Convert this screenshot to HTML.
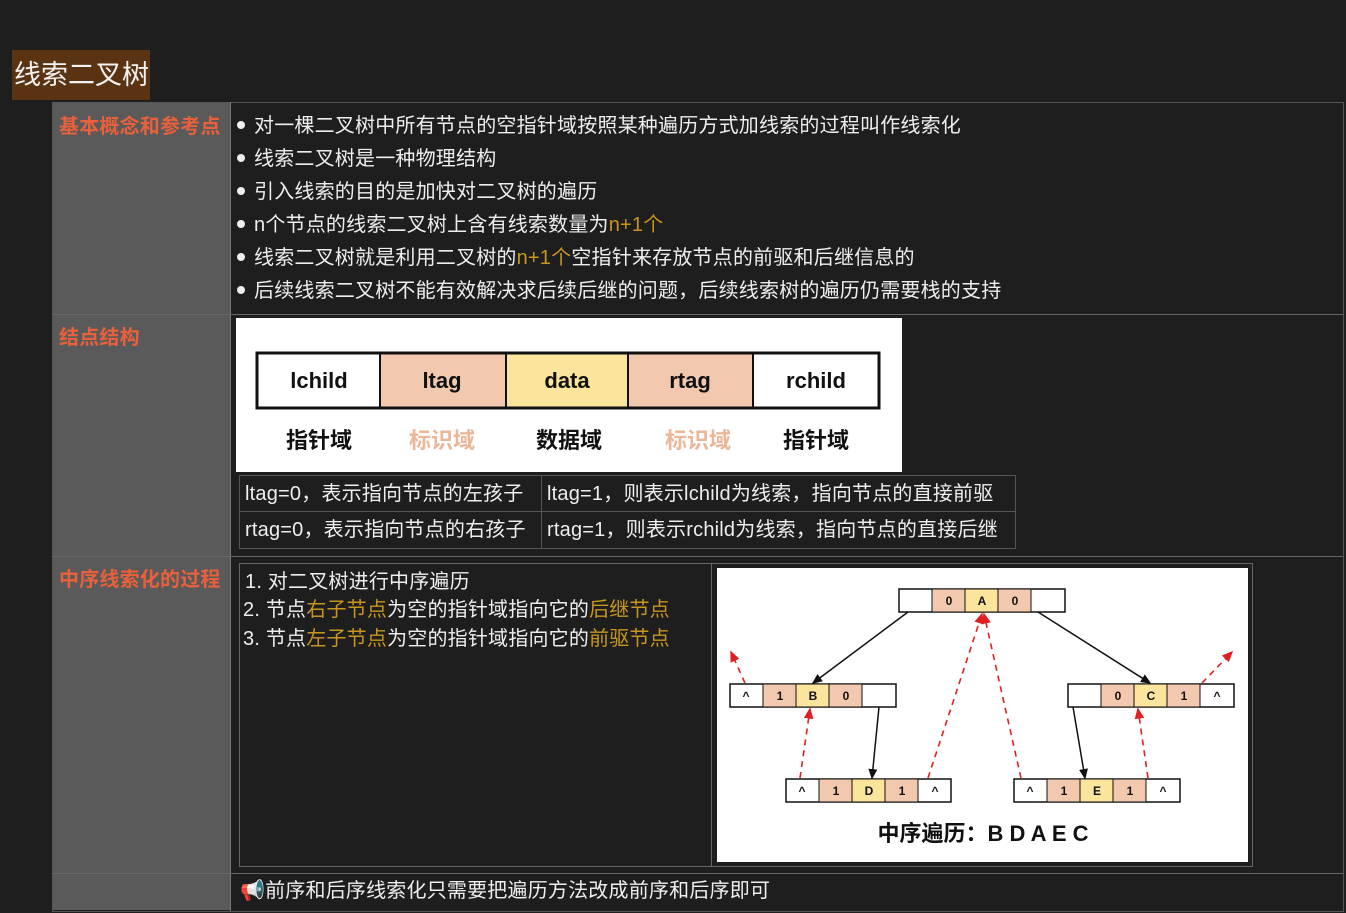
<!DOCTYPE html>
<html><head><meta charset="utf-8"><style>
body{margin:0;width:1346px;height:913px;background:#1e1e1e;font-family:"Liberation Sans","Noto Sans CJK SC",sans-serif;color:#eee;position:relative;overflow:hidden}
.a{position:absolute;white-space:nowrap}
.t{font-size:20px;line-height:22px;letter-spacing:0.2px}
.lab{color:#e8603c;font-size:20px;font-weight:bold;letter-spacing:0.2px}
.g{color:#c8961e}
.bl{position:absolute;width:8px;height:8px;border-radius:50%;background:#eee}
</style></head><body>
<div class="a" style="left:12px;top:50px;width:138px;height:50px;background:#5a3312"></div>
<div class="a" style="left:14px;top:58px;font-size:27px;line-height:34px;color:#f2f2f2">线索二叉树</div>
<div class="a" style="left:52px;top:102px;width:1290px;height:808px;border:1px solid #555;background:#1e1e1e"></div>
<div class="a" style="left:53px;top:103px;width:177px;height:807px;background:#5a5a5a"></div>
<div class="a" style="left:230px;top:102px;width:1px;height:809px;background:#777"></div>
<div class="a" style="left:52px;top:314px;width:1291px;height:1px;background:#666"></div>
<div class="a" style="left:52px;top:556px;width:1291px;height:1px;background:#666"></div>
<div class="a" style="left:52px;top:873px;width:1291px;height:1px;background:#666"></div>
<div class="a lab" style="left:59px;top:110px">基本概念和参考点</div>
<div class="a lab" style="left:59px;top:321px">结点结构</div>
<div class="a lab" style="left:59px;top:563px">中序线索化的过程</div>
<div class="bl" style="left:237px;top:121px"></div><div class="a t" style="left:254px;top:115px">对一棵二叉树中所有节点的空指针域按照某种遍历方式加线索的过程叫作线索化</div>
<div class="bl" style="left:237px;top:154px"></div><div class="a t" style="left:254px;top:148px">线索二叉树是一种物理结构</div>
<div class="bl" style="left:237px;top:187px"></div><div class="a t" style="left:254px;top:181px">引入线索的目的是加快对二叉树的遍历</div>
<div class="bl" style="left:237px;top:220px"></div><div class="a t" style="left:254px;top:214px">n个节点的线索二叉树上含有线索数量为<span class="g">n+1个</span></div>
<div class="bl" style="left:237px;top:253px"></div><div class="a t" style="left:254px;top:247px">线索二叉树就是利用二叉树的<span class="g">n+1个</span>空指针来存放节点的前驱和后继信息的</div>
<div class="bl" style="left:237px;top:286px"></div><div class="a t" style="left:254px;top:280px">后续线索二叉树不能有效解决求后续后继的问题，后续线索树的遍历仍需要栈的支持</div>
<svg class="a" style="left:236px;top:318px" width="666" height="154">
<rect width="666" height="154" fill="#fff"/>
<g font-family="Liberation Sans,Noto Sans CJK SC,sans-serif" font-weight="bold" font-size="22" text-anchor="middle">
<rect x="21" y="35" width="123" height="55" fill="#fff"/>
<rect x="144" y="35" width="126" height="55" fill="#f2c9ae"/>
<rect x="270" y="35" width="122" height="55" fill="#fbe49c"/>
<rect x="392" y="35" width="125" height="55" fill="#f2c9ae"/>
<rect x="21" y="35" width="622" height="55" fill="none" stroke="#111" stroke-width="3"/>
<g stroke="#111" stroke-width="2"><line x1="144" y1="35" x2="144" y2="90"/><line x1="270" y1="35" x2="270" y2="90"/><line x1="392" y1="35" x2="392" y2="90"/><line x1="517" y1="35" x2="517" y2="90"/></g>
<text x="83" y="70" fill="#111">lchild</text><text x="206" y="70" fill="#111">ltag</text><text x="331" y="70" fill="#111">data</text><text x="454" y="70" fill="#111">rtag</text><text x="580" y="70" fill="#111">rchild</text>
<text x="83" y="130" fill="#111">指针域</text><text x="206" y="130" fill="#eab898">标识域</text><text x="333" y="130" fill="#111">数据域</text><text x="462" y="130" fill="#eab898">标识域</text><text x="580" y="130" fill="#111">指针域</text>
</g></svg>
<div class="a" style="left:239px;top:475px;width:775px;height:72px;border:1px solid #555"></div>
<div class="a" style="left:239px;top:511px;width:776px;height:1px;background:#555"></div>
<div class="a" style="left:541px;top:475px;width:1px;height:73px;background:#555"></div>
<div class="a t" style="left:245px;top:483px">ltag=0，表示指向节点的左孩子</div>
<div class="a t" style="left:547px;top:483px">ltag=1，则表示lchild为线索，指向节点的直接前驱</div>
<div class="a t" style="left:245px;top:519px">rtag=0，表示指向节点的右孩子</div>
<div class="a t" style="left:547px;top:519px">rtag=1，则表示rchild为线索，指向节点的直接后继</div>
<div class="a" style="left:239px;top:563px;width:1012px;height:302px;border:1px solid #666"></div>
<div class="a" style="left:711px;top:563px;width:1px;height:303px;background:#666"></div>
<div class="a t" style="left:245px;top:571px">1. 对二叉树进行中序遍历</div>
<div class="a t" style="left:243px;top:599px">2. 节点<span class="g">右子节点</span>为空的指针域指向它的<span class="g">后继节点</span></div>
<div class="a t" style="left:243px;top:628px">3. 节点<span class="g">左子节点</span>为空的指针域指向它的<span class="g">前驱节点</span></div>
<svg class="a" style="left:0;top:0" width="1346" height="913">
<defs><marker id="ak" markerWidth="8" markerHeight="8" refX="6" refY="4" orient="auto"><path d="M0,1 L7,4 L0,7z" fill="#111"/></marker>
<marker id="ar" markerWidth="8" markerHeight="8" refX="6" refY="4" orient="auto"><path d="M0,1 L7,4 L0,7z" fill="#e02020"/></marker></defs>
<rect x="717" y="568" width="531" height="294" fill="#fff"/>
<g font-family="Liberation Sans,sans-serif" font-weight="bold" font-size="12" text-anchor="middle" fill="#111">
<g transform="translate(899,589)">
<rect width="166" height="23" fill="#fff" stroke="#111" stroke-width="1.5"/><rect x="33" width="33" height="23" fill="#f2c9ae" stroke="#111"/><rect x="66" width="33" height="23" fill="#fbe49c" stroke="#111"/><rect x="99" width="33" height="23" fill="#f2c9ae" stroke="#111"/>
<text x="50" y="16">0</text><text x="83" y="16">A</text><text x="116" y="16">0</text></g>
<g transform="translate(730,684)">
<rect width="166" height="23" fill="#fff" stroke="#111" stroke-width="1.5"/><rect x="33" width="33" height="23" fill="#f2c9ae" stroke="#111"/><rect x="66" width="33" height="23" fill="#fbe49c" stroke="#111"/><rect x="99" width="33" height="23" fill="#f2c9ae" stroke="#111"/>
<text x="16" y="16">^</text><text x="50" y="16">1</text><text x="83" y="16">B</text><text x="116" y="16">0</text></g>
<g transform="translate(1068,684)">
<rect width="166" height="23" fill="#fff" stroke="#111" stroke-width="1.5"/><rect x="33" width="33" height="23" fill="#f2c9ae" stroke="#111"/><rect x="66" width="33" height="23" fill="#fbe49c" stroke="#111"/><rect x="99" width="33" height="23" fill="#f2c9ae" stroke="#111"/>
<text x="50" y="16">0</text><text x="83" y="16">C</text><text x="116" y="16">1</text><text x="149" y="16">^</text></g>
<g transform="translate(786,779)">
<rect width="165" height="23" fill="#fff" stroke="#111" stroke-width="1.5"/><rect x="33" width="33" height="23" fill="#f2c9ae" stroke="#111"/><rect x="66" width="33" height="23" fill="#fbe49c" stroke="#111"/><rect x="99" width="33" height="23" fill="#f2c9ae" stroke="#111"/>
<text x="16" y="16">^</text><text x="50" y="16">1</text><text x="83" y="16">D</text><text x="116" y="16">1</text><text x="149" y="16">^</text></g>
<g transform="translate(1014,779)">
<rect width="166" height="23" fill="#fff" stroke="#111" stroke-width="1.5"/><rect x="33" width="33" height="23" fill="#f2c9ae" stroke="#111"/><rect x="66" width="33" height="23" fill="#fbe49c" stroke="#111"/><rect x="99" width="33" height="23" fill="#f2c9ae" stroke="#111"/>
<text x="16" y="16">^</text><text x="50" y="16">1</text><text x="83" y="16">E</text><text x="116" y="16">1</text><text x="149" y="16">^</text></g>
</g>
<g stroke="#111" stroke-width="1.5" marker-end="url(#ak)">
<line x1="908" y1="612" x2="813" y2="683"/><line x1="1038" y1="612" x2="1150" y2="683"/>
<line x1="879" y1="707" x2="872" y2="778"/><line x1="1073" y1="707" x2="1085" y2="778"/>
</g>
<g stroke="#e02020" stroke-width="1.6" stroke-dasharray="6,5" fill="none" marker-end="url(#ar)">
<line x1="800" y1="778" x2="810" y2="709"/><line x1="928" y1="778" x2="982" y2="614"/>
<line x1="1021" y1="778" x2="984" y2="614"/><line x1="1148" y1="778" x2="1138" y2="709"/>
<line x1="745" y1="683" x2="731" y2="652"/><line x1="1202" y1="683" x2="1232" y2="652"/>
</g>
<text x="983" y="841" text-anchor="middle" font-family="Liberation Sans,Noto Sans CJK SC,sans-serif" font-weight="bold" font-size="22" fill="#111">中序遍历：B D A E C</text>
</svg>
<div class="a t" style="left:240px;top:880px"><span style="color:#e86a8a">📢</span>前序和后序线索化只需要把遍历方法改成前序和后序即可</div>
</body></html>
